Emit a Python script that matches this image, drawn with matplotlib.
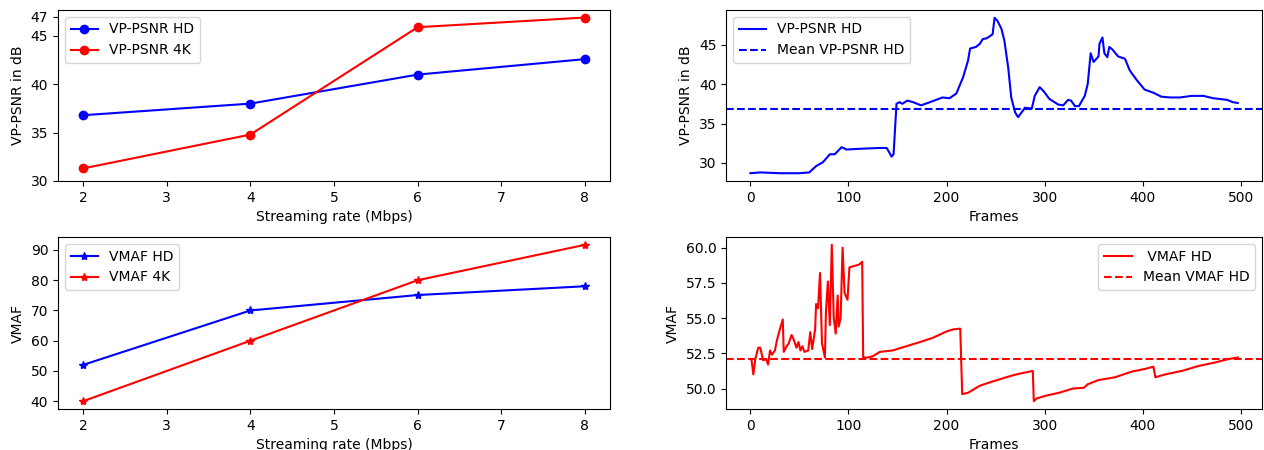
import numpy as np
import matplotlib
matplotlib.use("Agg")
import matplotlib.pyplot as plt

# streaming rates (Mbps)
rates = [2, 4, 6, 8]

# VP-PSNR per rate
psnr_hd = [36.8, 38.0, 41.0, 42.6]
psnr_4k = [31.3, 34.8, 45.9, 46.9]

# VMAF per rate
vmaf_hd = [52.0, 70.0, 75.1, 78.0]
vmaf_4k = [40.0, 60.0, 80.0, 91.7]

# VP-PSNR HD per frame
psnr_frames = [0, 10, 30, 50, 60, 67, 74, 81, 86, 93,
               98, 112, 132, 139, 144, 146, 149, 152, 155, 160,
               166, 174, 183, 196, 203, 210, 217, 222, 224, 230,
               234, 237, 241, 247, 249, 252, 256, 259, 263, 266,
               270, 273, 280, 287, 290, 295, 299, 305, 314, 319,
               324, 327, 331, 335, 341, 344, 347, 350, 355, 356,
               359, 361, 364, 366, 369, 375, 382, 387, 394, 402,
               411, 419, 428, 438, 450, 462, 472, 486, 492, 497]
psnr_values = [28.7, 28.8, 28.7, 28.7, 28.8, 29.6, 30.1, 31.1, 31.1, 32.0,
               31.7, 31.8, 31.9, 31.9, 30.8, 31.1, 37.5, 37.7, 37.5, 37.9,
               37.7, 37.3, 37.7, 38.3, 38.2, 38.8, 40.9, 43.0, 44.5, 44.7,
               45.1, 45.7, 45.8, 46.3, 48.4, 48.0, 47.0, 45.5, 42.0, 38.3,
               36.4, 35.8, 37.0, 36.9, 38.5, 39.6, 39.1, 38.1, 37.4, 37.3,
               38.0, 37.9, 37.2, 37.2, 38.5, 40.0, 43.9, 42.8, 43.5, 45.1,
               45.9, 43.9, 43.4, 44.7, 44.4, 43.5, 43.2, 41.7, 40.5, 39.3,
               38.9, 38.4, 38.3, 38.3, 38.5, 38.5, 38.2, 38.0, 37.7, 37.6]
psnr_mean = 36.9

# VMAF HD per frame
vmaf_frames = [0, 1, 3, 5, 8, 10, 13, 16, 18, 20,
               22, 25, 27, 30, 33, 34, 37, 39, 42, 44,
               47, 49, 51, 53, 55, 59, 61, 63, 66, 67,
               69, 71, 73, 76, 77, 79, 81, 83, 85, 87,
               89, 90, 92, 94, 96, 99, 101, 106, 111, 114,
               115, 120, 125, 132, 145, 159, 173, 186, 200, 207,
               214, 216, 222, 234, 247, 261, 271, 288, 289, 292,
               302, 315, 329, 340, 344, 355, 372, 389, 403, 411,
               413, 423, 440, 457, 474, 488, 497]
vmaf_values = [52.1, 52.1, 51.0, 52.1, 52.9, 52.9, 52.0, 52.1, 51.7, 52.7,
               52.4, 52.7, 53.4, 54.2, 54.9, 52.6, 53.0, 53.2, 53.8, 53.5,
               52.9, 53.3, 52.7, 53.0, 52.6, 52.7, 54.0, 52.8, 54.2, 56.0,
               55.7, 58.2, 53.2, 52.2, 55.4, 57.6, 54.5, 60.2, 55.0, 53.9,
               56.6, 54.4, 55.0, 60.0, 56.8, 56.3, 58.6, 58.7, 58.8, 59.0,
               52.2, 52.2, 52.3, 52.6, 52.7, 53.0, 53.3, 53.6, 54.05, 54.2,
               54.25, 49.6, 49.7, 50.2, 50.5, 50.8, 51.0, 51.25, 49.1, 49.3,
               49.5, 49.7, 50.0, 50.05, 50.3, 50.6, 50.8, 51.2, 51.4, 51.55,
               50.8, 51.0, 51.25, 51.6, 51.85, 52.1, 52.2]
vmaf_mean = 52.1

fig = plt.figure(figsize=(12.64, 4.5), dpi=100)
ax1 = fig.add_axes([0.0459, 0.5978, 0.4367, 0.38])
ax2 = fig.add_axes([0.5744, 0.5978, 0.4241, 0.38])
ax3 = fig.add_axes([0.0459, 0.0911, 0.4367, 0.3822])
ax4 = fig.add_axes([0.5744, 0.0911, 0.4241, 0.3822])

# top left: VP-PSNR vs rate
ax1.plot(rates, psnr_hd, "b-o", label="VP-PSNR HD")
ax1.plot(rates, psnr_4k, "r-o", label="VP-PSNR 4K")
ax1.set_ylim(bottom=30)
ax1.set_yticks([30, 35, 40, 45, 47])
ax1.set_xlabel("Streaming rate (Mbps)")
ax1.set_ylabel("VP-PSNR in dB")
ax1.legend(loc="upper left")

# top right: VP-PSNR per frame
ax2.plot(psnr_frames, psnr_values, "b-", label="VP-PSNR HD")
ax2.axhline(psnr_mean, color="b", linestyle="--", label="Mean VP-PSNR HD")
ax2.set_xlabel("Frames")
ax2.set_ylabel("VP-PSNR in dB")
ax2.legend(loc="upper left")

# bottom left: VMAF vs rate
ax3.plot(rates, vmaf_hd, "b-*", label="VMAF HD")
ax3.plot(rates, vmaf_4k, "r-*", label="VMAF 4K")
ax3.set_xlabel("Streaming rate (Mbps)")
ax3.set_ylabel("VMAF")
ax3.legend(loc="upper left")

# bottom right: VMAF per frame
ax4.plot(vmaf_frames, vmaf_values, "r-", label=" VMAF HD")
ax4.axhline(vmaf_mean, color="r", linestyle="--", label="Mean VMAF HD")
ax4.set_xlabel("Frames")
ax4.set_ylabel("VMAF")
ax4.legend(loc="upper right")

plt.savefig("out.png", dpi=100)
